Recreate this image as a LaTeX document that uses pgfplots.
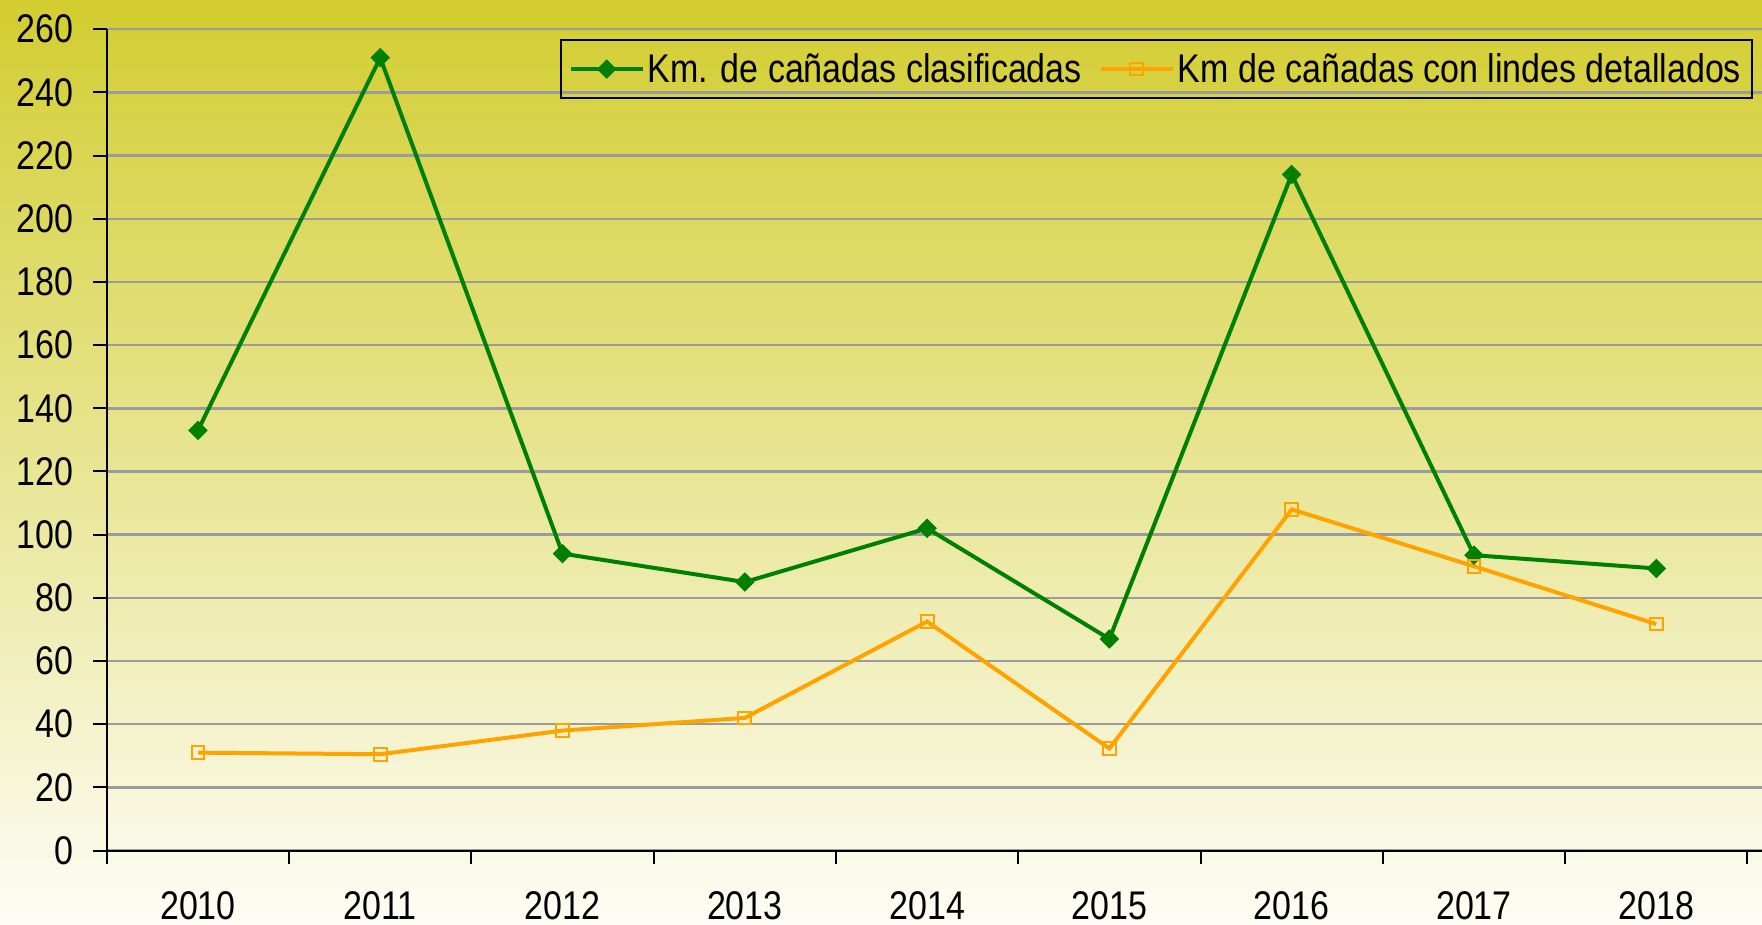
\documentclass[border=0pt]{standalone}
\usepackage{pgfplots}
\pgfplotsset{compat=1.18}
\usepackage{fontspec}
\setmainfont[FakeStretch=0.85]{Liberation Sans}
\definecolor{bgtop}{RGB}{211,205,48}
\definecolor{bgbot}{RGB}{253,253,246}
\definecolor{lgreen}{RGB}{0,128,0}
\definecolor{lorange}{RGB}{255,163,0}
\definecolor{gridgray}{RGB}{155,155,155}
\newcommand{\chartfont}{\fontsize{20}{24}\selectfont}
\begin{document}
\begin{tikzpicture}
\shade[top color=bgtop, bottom color=bgbot] (0,0) rectangle (881pt,462.5pt);
\useasboundingbox (0,0) rectangle (881pt,462.5pt);
\begin{axis}[
  at={(53.4pt,37.2pt)}, anchor=south west,
  scale only axis, width=827.6pt, height=410.7pt,
  xmin=-0.5, xmax=8.58, ymin=0, ymax=260,
  axis x line*=bottom, axis y line*=left,
  axis line style={line width=1pt, black, -},
  xtick={-0.5,0.5,1.5,2.5,3.5,4.5,5.5,6.5,7.5,8.5},
  xticklabels={2010,2011,2012,2013,2014,2015,2016,2017,2018},
  x tick label as interval,
  ytick={0,20,...,260},
  tick align=outside,
  major tick length=6.7pt,
  tick style={black, line width=1pt},
  ymajorgrids, grid style={gridgray, line width=1.2pt},
  /pgf/number format/assume math mode=true,
  tick label style={font=\chartfont, black},
  xticklabel style={yshift=-10.5pt},
  yticklabel style={xshift=-6.5pt},
  legend columns=-1,
  legend image code/.code={\draw[mark repeat=2,mark phase=2,#1] plot coordinates {(0pt,0pt) (18pt,0pt) (36pt,0pt)};},
  legend style={at={(rel axis cs:0.9946,0.988)}, anchor=north east,
    draw=black, line width=1pt, fill=none, font=\chartfont,
    inner xsep=4pt, inner ysep=4.5pt,
    nodes={inner xsep=1.5pt},
    /tikz/every even column/.append style={column sep=7pt}},
]
\addplot[color=lgreen, line width=2pt, mark=square*, mark size=3.2pt,
  mark options={rotate=45, fill=lgreen, line width=0.5pt}]
  coordinates {(0,133) (1,251) (2,94) (3,85) (4,102) (5,67) (6,214) (7,93.5) (8,89.3)};
\addlegendentry{Km. de cañadas clasificadas}
\addplot[color=lorange, line width=2pt, mark=square, mark size=3.2pt,
  mark options={fill=none, line width=1pt}]
  coordinates {(0,31) (1,30.5) (2,38) (3,42) (4,72.5) (5,32.3) (6,108) (7,90) (8,71.7)};
\addlegendentry{Km de cañadas con lindes detallados}
\end{axis}
\end{tikzpicture}
\end{document}
